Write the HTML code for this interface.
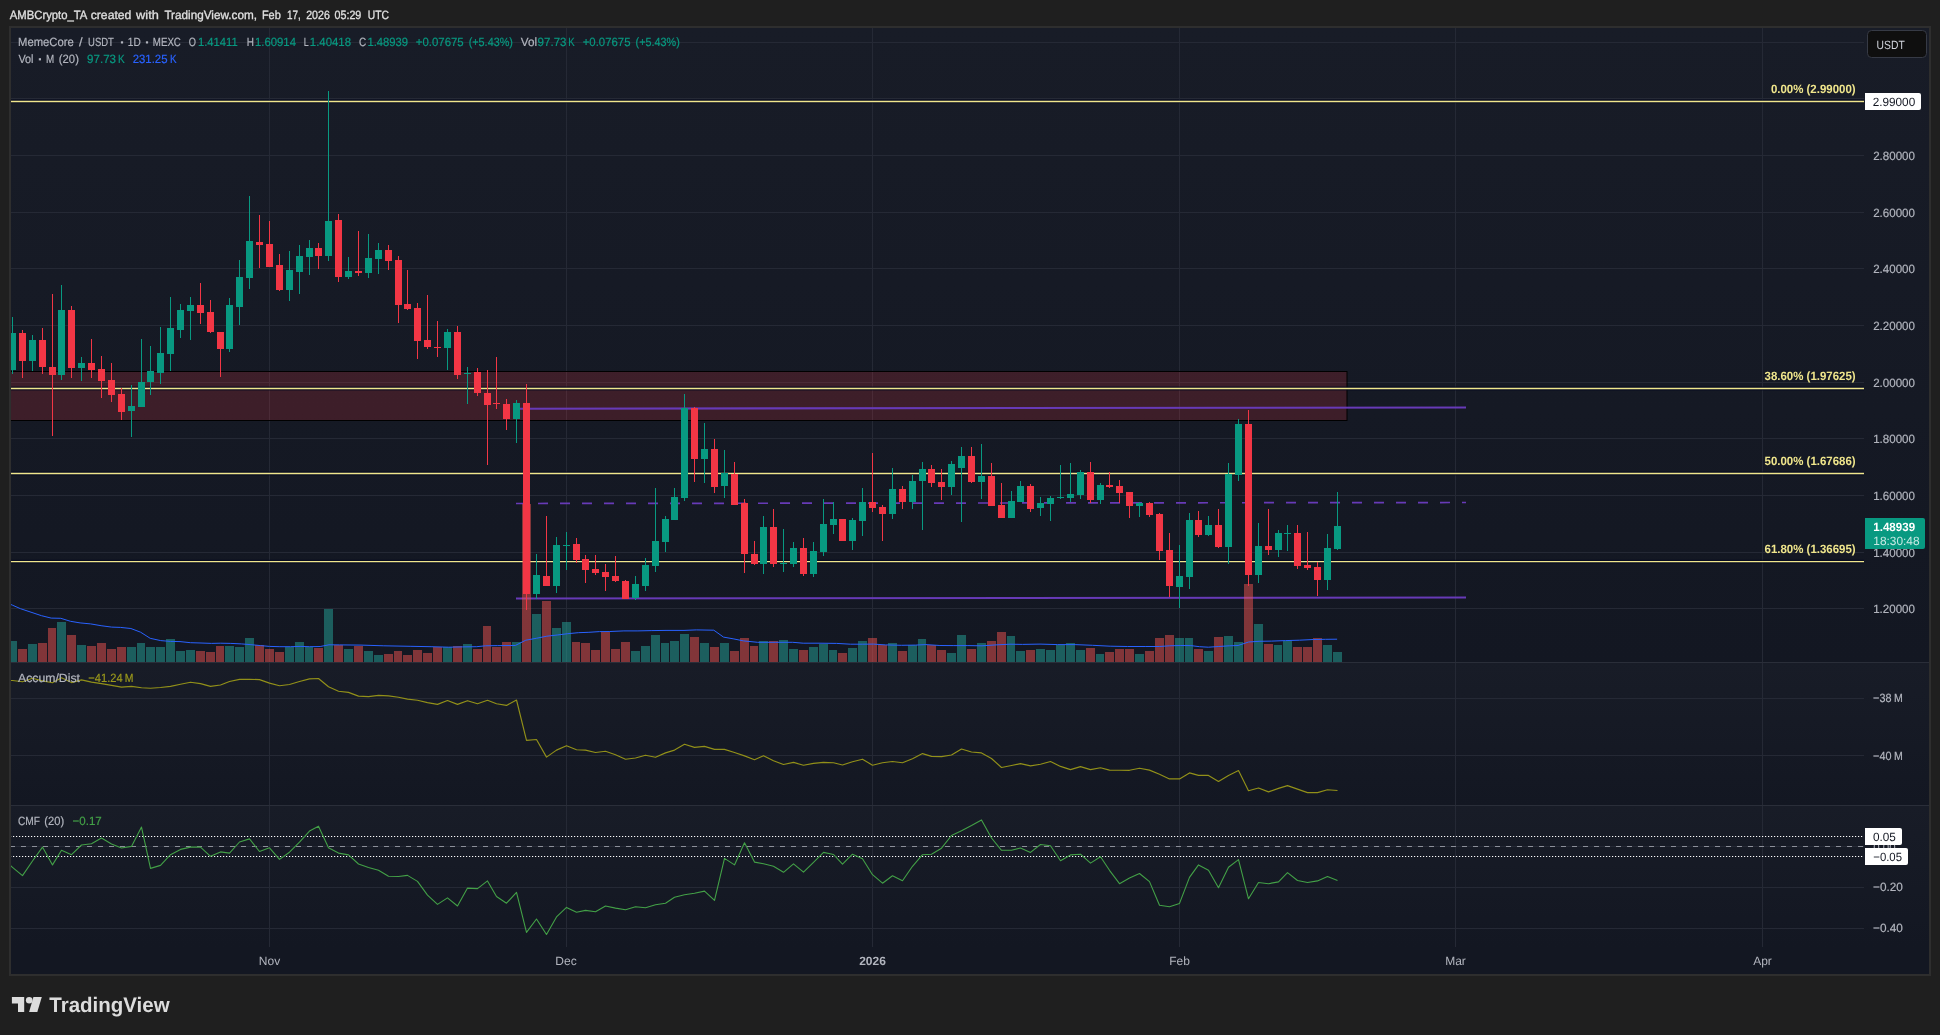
<!DOCTYPE html>
<html><head><meta charset="utf-8"><title>MemeCore / USDT chart</title>
<style>html,body{margin:0;padding:0;background:#1f1f1f;}body{width:1940px;height:1035px;overflow:hidden;font-family:"Liberation Sans", sans-serif;}svg{display:block;position:absolute;left:0;top:0}</style>
</head><body>
<svg width="1940" height="1035" viewBox="0 0 1940 1035" font-family='"Liberation Sans", sans-serif'>
<defs>
<linearGradient id="pg" x1="0" y1="0" x2="0" y2="1"><stop offset="0" stop-color="#181c27"/><stop offset="1" stop-color="#131722"/></linearGradient>
<clipPath id="plot"><rect x="11" y="28" width="1853" height="919"/></clipPath>
<clipPath id="mainp"><rect x="11" y="28" width="1853" height="634"/></clipPath>
</defs>
<rect width="1940" height="1035" fill="#1f1f1f"/>
<rect x="9" y="26" width="1922" height="950" fill="#2e2e2e"/>
<rect x="11" y="28" width="1918" height="634" fill="url(#pg)"/>
<rect x="11" y="663" width="1918" height="142" fill="url(#pg)"/>
<rect x="11" y="806" width="1918" height="141" fill="url(#pg)"/>
<rect x="11" y="947" width="1918" height="27" fill="#131722"/>
<rect x="11" y="662" width="1918" height="1" fill="#2a2e39"/>
<rect x="11" y="805" width="1918" height="1" fill="#2a2e39"/>
<g fill="#252935" shape-rendering="crispEdges">
<rect x="269" y="28" width="1" height="634"/>
<rect x="269" y="663" width="1" height="142"/>
<rect x="269" y="806" width="1" height="141"/>
<rect x="566" y="28" width="1" height="634"/>
<rect x="566" y="663" width="1" height="142"/>
<rect x="566" y="806" width="1" height="141"/>
<rect x="872" y="28" width="1" height="634"/>
<rect x="872" y="663" width="1" height="142"/>
<rect x="872" y="806" width="1" height="141"/>
<rect x="1179" y="28" width="1" height="634"/>
<rect x="1179" y="663" width="1" height="142"/>
<rect x="1179" y="806" width="1" height="141"/>
<rect x="1455" y="28" width="1" height="634"/>
<rect x="1455" y="663" width="1" height="142"/>
<rect x="1455" y="806" width="1" height="141"/>
<rect x="1762" y="28" width="1" height="634"/>
<rect x="1762" y="663" width="1" height="142"/>
<rect x="1762" y="806" width="1" height="141"/>
<rect x="11" y="42" width="1853" height="1"/>
<rect x="11" y="98" width="1853" height="1"/>
<rect x="11" y="155" width="1853" height="1"/>
<rect x="11" y="212" width="1853" height="1"/>
<rect x="11" y="268" width="1853" height="1"/>
<rect x="11" y="325" width="1853" height="1"/>
<rect x="11" y="382" width="1853" height="1"/>
<rect x="11" y="438" width="1853" height="1"/>
<rect x="11" y="495" width="1853" height="1"/>
<rect x="11" y="552" width="1853" height="1"/>
<rect x="11" y="608" width="1853" height="1"/>
<rect x="11" y="698" width="1853" height="1"/>
<rect x="11" y="755" width="1853" height="1"/>
<rect x="11" y="846" width="1853" height="1"/>
<rect x="11" y="887" width="1853" height="1"/>
<rect x="11" y="928" width="1853" height="1"/>
</g>
<g clip-path="url(#mainp)">
<rect x="0" y="371.5" width="1347" height="49" fill="rgba(242,54,69,0.18)" stroke="#000" stroke-width="1"/>
<line x1="11" x2="1864" y1="101.45" y2="101.45" stroke="#040820" stroke-opacity="0.75" stroke-width="3.8"/>
<line x1="11" x2="1864" y1="101.45" y2="101.45" stroke="#f0e68c" stroke-width="1.35"/>
<line x1="11" x2="1864" y1="388.5" y2="388.5" stroke="#040820" stroke-opacity="0.75" stroke-width="3.8"/>
<line x1="11" x2="1864" y1="388.5" y2="388.5" stroke="#f0e68c" stroke-width="1.35"/>
<line x1="11" x2="1864" y1="473.5" y2="473.5" stroke="#040820" stroke-opacity="0.75" stroke-width="3.8"/>
<line x1="11" x2="1864" y1="473.5" y2="473.5" stroke="#f0e68c" stroke-width="1.35"/>
<line x1="11" x2="1864" y1="561.55" y2="561.55" stroke="#040820" stroke-opacity="0.75" stroke-width="3.8"/>
<line x1="11" x2="1864" y1="561.55" y2="561.55" stroke="#f0e68c" stroke-width="1.35"/>
<line x1="517" x2="1466" y1="408.7" y2="407.5" stroke="#673ab7" stroke-width="2.1"/>
<line x1="516" x2="1466" y1="598.5" y2="597.5" stroke="#673ab7" stroke-width="2.1"/>
<line x1="516" x2="1466" y1="503.5" y2="502.5" stroke="#673ab7" stroke-width="1.7" stroke-dasharray="10 12"/>
</g>
<g clip-path="url(#mainp)" shape-rendering="crispEdges">
<rect x="8" y="641" width="9" height="21" fill="rgba(38,166,154,0.5)"/>
<rect x="18" y="649" width="9" height="13" fill="rgba(239,83,80,0.5)"/>
<rect x="28" y="644" width="9" height="18" fill="rgba(38,166,154,0.5)"/>
<rect x="38" y="643" width="9" height="19" fill="rgba(239,83,80,0.5)"/>
<rect x="48" y="628" width="8" height="34" fill="rgba(239,83,80,0.5)"/>
<rect x="57" y="622" width="9" height="40" fill="rgba(38,166,154,0.5)"/>
<rect x="67" y="635" width="9" height="27" fill="rgba(239,83,80,0.5)"/>
<rect x="77" y="645" width="9" height="17" fill="rgba(38,166,154,0.5)"/>
<rect x="87" y="646" width="9" height="16" fill="rgba(239,83,80,0.5)"/>
<rect x="97" y="643" width="9" height="19" fill="rgba(239,83,80,0.5)"/>
<rect x="107" y="649" width="9" height="13" fill="rgba(239,83,80,0.5)"/>
<rect x="117" y="647" width="9" height="15" fill="rgba(239,83,80,0.5)"/>
<rect x="127" y="647" width="9" height="15" fill="rgba(38,166,154,0.5)"/>
<rect x="137" y="643" width="8" height="19" fill="rgba(38,166,154,0.5)"/>
<rect x="146" y="647" width="9" height="15" fill="rgba(38,166,154,0.5)"/>
<rect x="156" y="647" width="9" height="15" fill="rgba(38,166,154,0.5)"/>
<rect x="166" y="639" width="9" height="23" fill="rgba(38,166,154,0.5)"/>
<rect x="176" y="651" width="9" height="11" fill="rgba(38,166,154,0.5)"/>
<rect x="186" y="650" width="9" height="12" fill="rgba(38,166,154,0.5)"/>
<rect x="196" y="651" width="9" height="11" fill="rgba(239,83,80,0.5)"/>
<rect x="206" y="652" width="9" height="10" fill="rgba(239,83,80,0.5)"/>
<rect x="216" y="646" width="8" height="16" fill="rgba(239,83,80,0.5)"/>
<rect x="225" y="646" width="9" height="16" fill="rgba(38,166,154,0.5)"/>
<rect x="235" y="647" width="9" height="15" fill="rgba(38,166,154,0.5)"/>
<rect x="245" y="638" width="9" height="24" fill="rgba(38,166,154,0.5)"/>
<rect x="255" y="645" width="9" height="17" fill="rgba(239,83,80,0.5)"/>
<rect x="265" y="649" width="9" height="13" fill="rgba(239,83,80,0.5)"/>
<rect x="275" y="652" width="9" height="10" fill="rgba(239,83,80,0.5)"/>
<rect x="285" y="647" width="9" height="15" fill="rgba(38,166,154,0.5)"/>
<rect x="295" y="642" width="9" height="20" fill="rgba(38,166,154,0.5)"/>
<rect x="305" y="647" width="8" height="15" fill="rgba(38,166,154,0.5)"/>
<rect x="314" y="648" width="9" height="14" fill="rgba(239,83,80,0.5)"/>
<rect x="324" y="609" width="9" height="53" fill="rgba(38,166,154,0.5)"/>
<rect x="334" y="645" width="9" height="17" fill="rgba(239,83,80,0.5)"/>
<rect x="344" y="649" width="9" height="13" fill="rgba(38,166,154,0.5)"/>
<rect x="354" y="646" width="9" height="16" fill="rgba(239,83,80,0.5)"/>
<rect x="364" y="651" width="9" height="11" fill="rgba(38,166,154,0.5)"/>
<rect x="374" y="655" width="9" height="7" fill="rgba(38,166,154,0.5)"/>
<rect x="384" y="654" width="9" height="8" fill="rgba(239,83,80,0.5)"/>
<rect x="394" y="651" width="8" height="11" fill="rgba(239,83,80,0.5)"/>
<rect x="403" y="655" width="9" height="7" fill="rgba(239,83,80,0.5)"/>
<rect x="413" y="650" width="9" height="12" fill="rgba(239,83,80,0.5)"/>
<rect x="423" y="653" width="9" height="9" fill="rgba(239,83,80,0.5)"/>
<rect x="433" y="647" width="9" height="15" fill="rgba(239,83,80,0.5)"/>
<rect x="443" y="647" width="9" height="15" fill="rgba(38,166,154,0.5)"/>
<rect x="453" y="646" width="9" height="16" fill="rgba(239,83,80,0.5)"/>
<rect x="463" y="644" width="9" height="18" fill="rgba(38,166,154,0.5)"/>
<rect x="473" y="649" width="9" height="13" fill="rgba(239,83,80,0.5)"/>
<rect x="483" y="626" width="8" height="36" fill="rgba(239,83,80,0.5)"/>
<rect x="492" y="647" width="9" height="15" fill="rgba(239,83,80,0.5)"/>
<rect x="502" y="642" width="9" height="20" fill="rgba(239,83,80,0.5)"/>
<rect x="512" y="642" width="9" height="20" fill="rgba(38,166,154,0.5)"/>
<rect x="522" y="504" width="9" height="158" fill="rgba(239,83,80,0.5)"/>
<rect x="532" y="614" width="9" height="48" fill="rgba(38,166,154,0.5)"/>
<rect x="542" y="601" width="9" height="61" fill="rgba(239,83,80,0.5)"/>
<rect x="552" y="628" width="9" height="34" fill="rgba(38,166,154,0.5)"/>
<rect x="562" y="622" width="9" height="40" fill="rgba(38,166,154,0.5)"/>
<rect x="572" y="642" width="8" height="20" fill="rgba(239,83,80,0.5)"/>
<rect x="581" y="643" width="9" height="19" fill="rgba(239,83,80,0.5)"/>
<rect x="591" y="650" width="9" height="12" fill="rgba(239,83,80,0.5)"/>
<rect x="601" y="632" width="9" height="30" fill="rgba(239,83,80,0.5)"/>
<rect x="611" y="649" width="9" height="13" fill="rgba(239,83,80,0.5)"/>
<rect x="621" y="642" width="9" height="20" fill="rgba(239,83,80,0.5)"/>
<rect x="631" y="651" width="9" height="11" fill="rgba(38,166,154,0.5)"/>
<rect x="641" y="646" width="9" height="16" fill="rgba(38,166,154,0.5)"/>
<rect x="651" y="635" width="9" height="27" fill="rgba(38,166,154,0.5)"/>
<rect x="661" y="643" width="8" height="19" fill="rgba(38,166,154,0.5)"/>
<rect x="670" y="641" width="9" height="21" fill="rgba(38,166,154,0.5)"/>
<rect x="680" y="634" width="9" height="28" fill="rgba(38,166,154,0.5)"/>
<rect x="690" y="637" width="9" height="25" fill="rgba(239,83,80,0.5)"/>
<rect x="700" y="643" width="9" height="19" fill="rgba(38,166,154,0.5)"/>
<rect x="710" y="647" width="9" height="15" fill="rgba(239,83,80,0.5)"/>
<rect x="720" y="643" width="9" height="19" fill="rgba(38,166,154,0.5)"/>
<rect x="730" y="651" width="9" height="11" fill="rgba(239,83,80,0.5)"/>
<rect x="740" y="638" width="9" height="24" fill="rgba(239,83,80,0.5)"/>
<rect x="750" y="646" width="8" height="16" fill="rgba(239,83,80,0.5)"/>
<rect x="759" y="641" width="9" height="21" fill="rgba(38,166,154,0.5)"/>
<rect x="769" y="641" width="9" height="21" fill="rgba(239,83,80,0.5)"/>
<rect x="779" y="640" width="9" height="22" fill="rgba(38,166,154,0.5)"/>
<rect x="789" y="649" width="9" height="13" fill="rgba(38,166,154,0.5)"/>
<rect x="799" y="650" width="9" height="12" fill="rgba(239,83,80,0.5)"/>
<rect x="809" y="647" width="9" height="15" fill="rgba(38,166,154,0.5)"/>
<rect x="819" y="644" width="9" height="18" fill="rgba(38,166,154,0.5)"/>
<rect x="829" y="650" width="8" height="12" fill="rgba(38,166,154,0.5)"/>
<rect x="838" y="653" width="9" height="9" fill="rgba(239,83,80,0.5)"/>
<rect x="848" y="648" width="9" height="14" fill="rgba(38,166,154,0.5)"/>
<rect x="858" y="641" width="9" height="21" fill="rgba(38,166,154,0.5)"/>
<rect x="868" y="638" width="9" height="24" fill="rgba(239,83,80,0.5)"/>
<rect x="878" y="645" width="9" height="17" fill="rgba(239,83,80,0.5)"/>
<rect x="888" y="643" width="9" height="19" fill="rgba(38,166,154,0.5)"/>
<rect x="898" y="651" width="9" height="11" fill="rgba(239,83,80,0.5)"/>
<rect x="908" y="645" width="9" height="17" fill="rgba(38,166,154,0.5)"/>
<rect x="918" y="639" width="8" height="23" fill="rgba(38,166,154,0.5)"/>
<rect x="927" y="645" width="9" height="17" fill="rgba(239,83,80,0.5)"/>
<rect x="937" y="650" width="9" height="12" fill="rgba(239,83,80,0.5)"/>
<rect x="947" y="653" width="9" height="9" fill="rgba(38,166,154,0.5)"/>
<rect x="957" y="635" width="9" height="27" fill="rgba(38,166,154,0.5)"/>
<rect x="967" y="649" width="9" height="13" fill="rgba(239,83,80,0.5)"/>
<rect x="977" y="643" width="9" height="19" fill="rgba(38,166,154,0.5)"/>
<rect x="987" y="641" width="9" height="21" fill="rgba(239,83,80,0.5)"/>
<rect x="997" y="632" width="9" height="30" fill="rgba(239,83,80,0.5)"/>
<rect x="1007" y="636" width="8" height="26" fill="rgba(38,166,154,0.5)"/>
<rect x="1016" y="651" width="9" height="11" fill="rgba(38,166,154,0.5)"/>
<rect x="1026" y="650" width="9" height="12" fill="rgba(239,83,80,0.5)"/>
<rect x="1036" y="649" width="9" height="13" fill="rgba(38,166,154,0.5)"/>
<rect x="1046" y="650" width="9" height="12" fill="rgba(38,166,154,0.5)"/>
<rect x="1056" y="645" width="9" height="17" fill="rgba(38,166,154,0.5)"/>
<rect x="1066" y="643" width="9" height="19" fill="rgba(38,166,154,0.5)"/>
<rect x="1076" y="650" width="9" height="12" fill="rgba(38,166,154,0.5)"/>
<rect x="1086" y="648" width="9" height="14" fill="rgba(239,83,80,0.5)"/>
<rect x="1096" y="654" width="8" height="8" fill="rgba(38,166,154,0.5)"/>
<rect x="1105" y="652" width="9" height="10" fill="rgba(239,83,80,0.5)"/>
<rect x="1115" y="649" width="9" height="13" fill="rgba(239,83,80,0.5)"/>
<rect x="1125" y="649" width="9" height="13" fill="rgba(239,83,80,0.5)"/>
<rect x="1135" y="654" width="9" height="8" fill="rgba(38,166,154,0.5)"/>
<rect x="1145" y="651" width="9" height="11" fill="rgba(239,83,80,0.5)"/>
<rect x="1155" y="638" width="9" height="24" fill="rgba(239,83,80,0.5)"/>
<rect x="1165" y="635" width="9" height="27" fill="rgba(239,83,80,0.5)"/>
<rect x="1175" y="638" width="9" height="24" fill="rgba(38,166,154,0.5)"/>
<rect x="1185" y="638" width="8" height="24" fill="rgba(38,166,154,0.5)"/>
<rect x="1194" y="649" width="9" height="13" fill="rgba(239,83,80,0.5)"/>
<rect x="1204" y="651" width="9" height="11" fill="rgba(38,166,154,0.5)"/>
<rect x="1214" y="637" width="9" height="25" fill="rgba(239,83,80,0.5)"/>
<rect x="1224" y="636" width="9" height="26" fill="rgba(38,166,154,0.5)"/>
<rect x="1234" y="642" width="9" height="20" fill="rgba(38,166,154,0.5)"/>
<rect x="1244" y="584" width="9" height="78" fill="rgba(239,83,80,0.5)"/>
<rect x="1254" y="624" width="9" height="38" fill="rgba(38,166,154,0.5)"/>
<rect x="1264" y="644" width="9" height="18" fill="rgba(239,83,80,0.5)"/>
<rect x="1274" y="645" width="8" height="17" fill="rgba(38,166,154,0.5)"/>
<rect x="1283" y="641" width="9" height="21" fill="rgba(38,166,154,0.5)"/>
<rect x="1293" y="647" width="9" height="15" fill="rgba(239,83,80,0.5)"/>
<rect x="1303" y="647" width="9" height="15" fill="rgba(239,83,80,0.5)"/>
<rect x="1313" y="638" width="9" height="24" fill="rgba(239,83,80,0.5)"/>
<rect x="1323" y="645" width="9" height="17" fill="rgba(38,166,154,0.5)"/>
<rect x="1333" y="652" width="9" height="10" fill="rgba(38,166,154,0.5)"/>
</g>
<polyline clip-path="url(#mainp)" points="2.6,600.9 12.5,605.2 20.5,608.7 31.0,612.2 41.5,615.7 51.2,618.1 60.8,618.3 70.5,621.3 80.1,622.9 90.6,623.9 101.1,625.7 111.6,627.1 120.4,627.4 130.9,628.5 140.6,632.2 150.2,638.3 160.7,640.6 170.4,641.4 180.0,641.6 190.5,642.7 201.0,643.0 211.5,643.4 220.3,643.2 230.8,643.4 241.3,643.9 250.1,644.6 260.6,645.6 269.4,646.4 279.9,646.7 290.4,646.7 300.9,646.4 309.7,646.7 320.2,646.5 329.0,644.8 339.5,644.9 361.0,645.1 383.8,645.8 410.1,646.3 431.1,646.7 448.7,647.2 462.7,646.9 476.7,646.7 485.5,645.8 497.7,645.6 515.3,645.5 525.8,640.2 536.3,638.3 546.8,636.2 557.3,635.0 567.8,633.7 578.3,632.7 588.9,632.3 599.4,631.6 609.9,631.5 623.9,630.9 637.9,630.9 651.9,630.6 666.0,630.4 684.0,630.4 696.3,629.9 713.8,630.2 723.5,637.1 733.1,638.8 743.6,640.9 757.6,642.3 775.2,642.3 792.7,642.3 803.2,643.2 819.0,643.2 836.5,643.4 850.5,644.2 862.8,644.2 873.3,644.1 885.6,644.9 901.3,645.3 915.4,645.1 925.9,644.6 939.9,645.5 953.9,645.6 967.9,645.6 982.0,645.8 996.0,644.9 1010.0,644.2 1022.5,644.4 1040.0,644.1 1057.6,644.6 1075.1,644.6 1092.6,645.3 1110.2,646.2 1127.7,646.5 1145.2,646.5 1159.2,646.5 1169.7,645.8 1180.2,645.5 1190.8,645.6 1199.5,646.7 1208.3,647.2 1218.8,646.5 1229.3,645.8 1238.1,645.5 1248.6,642.0 1259.1,641.3 1271.4,641.1 1285.4,640.6 1299.4,640.2 1313.4,639.5 1325.7,639.3 1337.1,639.2" fill="none" stroke="#2962ff" stroke-width="1" stroke-linejoin="round"/>
<g clip-path="url(#mainp)" shape-rendering="crispEdges">
<rect x="12" y="317" width="1" height="57" fill="#089981"/>
<rect x="9" y="333" width="7" height="37" fill="#089981"/>
<rect x="22" y="330" width="1" height="48" fill="#f23645"/>
<rect x="19" y="333" width="7" height="28" fill="#f23645"/>
<rect x="32" y="335" width="1" height="36" fill="#089981"/>
<rect x="29" y="340" width="7" height="21" fill="#089981"/>
<rect x="42" y="328" width="1" height="46" fill="#f23645"/>
<rect x="39" y="340" width="7" height="27" fill="#f23645"/>
<rect x="52" y="294" width="1" height="142" fill="#f23645"/>
<rect x="49" y="367" width="7" height="8" fill="#f23645"/>
<rect x="61" y="285" width="1" height="95" fill="#089981"/>
<rect x="58" y="310" width="7" height="65" fill="#089981"/>
<rect x="71" y="306" width="1" height="72" fill="#f23645"/>
<rect x="68" y="310" width="7" height="58" fill="#f23645"/>
<rect x="81" y="357" width="1" height="24" fill="#089981"/>
<rect x="78" y="363" width="7" height="5" fill="#089981"/>
<rect x="91" y="339" width="1" height="39" fill="#f23645"/>
<rect x="88" y="363" width="7" height="7" fill="#f23645"/>
<rect x="101" y="356" width="1" height="42" fill="#f23645"/>
<rect x="98" y="369" width="7" height="12" fill="#f23645"/>
<rect x="111" y="363" width="1" height="39" fill="#f23645"/>
<rect x="108" y="380" width="7" height="15" fill="#f23645"/>
<rect x="121" y="388" width="1" height="32" fill="#f23645"/>
<rect x="118" y="394" width="7" height="18" fill="#f23645"/>
<rect x="131" y="385" width="1" height="52" fill="#089981"/>
<rect x="128" y="406" width="7" height="5" fill="#089981"/>
<rect x="141" y="339" width="1" height="68" fill="#089981"/>
<rect x="138" y="382" width="7" height="25" fill="#089981"/>
<rect x="150" y="346" width="1" height="49" fill="#089981"/>
<rect x="147" y="371" width="7" height="11" fill="#089981"/>
<rect x="160" y="327" width="1" height="57" fill="#089981"/>
<rect x="157" y="353" width="7" height="20" fill="#089981"/>
<rect x="170" y="297" width="1" height="74" fill="#089981"/>
<rect x="167" y="328" width="7" height="26" fill="#089981"/>
<rect x="180" y="304" width="1" height="34" fill="#089981"/>
<rect x="177" y="310" width="7" height="20" fill="#089981"/>
<rect x="190" y="297" width="1" height="43" fill="#089981"/>
<rect x="187" y="305" width="7" height="6" fill="#089981"/>
<rect x="200" y="283" width="1" height="41" fill="#f23645"/>
<rect x="197" y="305" width="7" height="8" fill="#f23645"/>
<rect x="210" y="300" width="1" height="33" fill="#f23645"/>
<rect x="207" y="312" width="7" height="20" fill="#f23645"/>
<rect x="220" y="332" width="1" height="45" fill="#f23645"/>
<rect x="217" y="332" width="7" height="17" fill="#f23645"/>
<rect x="229" y="298" width="1" height="54" fill="#089981"/>
<rect x="226" y="305" width="7" height="44" fill="#089981"/>
<rect x="239" y="260" width="1" height="65" fill="#089981"/>
<rect x="236" y="277" width="7" height="30" fill="#089981"/>
<rect x="249" y="196" width="1" height="93" fill="#089981"/>
<rect x="246" y="241" width="7" height="37" fill="#089981"/>
<rect x="259" y="215" width="1" height="53" fill="#f23645"/>
<rect x="256" y="242" width="7" height="3" fill="#f23645"/>
<rect x="269" y="221" width="1" height="46" fill="#f23645"/>
<rect x="266" y="244" width="7" height="23" fill="#f23645"/>
<rect x="279" y="254" width="1" height="37" fill="#f23645"/>
<rect x="276" y="265" width="7" height="25" fill="#f23645"/>
<rect x="289" y="251" width="1" height="50" fill="#089981"/>
<rect x="286" y="270" width="7" height="20" fill="#089981"/>
<rect x="299" y="245" width="1" height="49" fill="#089981"/>
<rect x="296" y="256" width="7" height="16" fill="#089981"/>
<rect x="309" y="240" width="1" height="35" fill="#089981"/>
<rect x="306" y="248" width="7" height="9" fill="#089981"/>
<rect x="318" y="243" width="1" height="26" fill="#f23645"/>
<rect x="315" y="248" width="7" height="8" fill="#f23645"/>
<rect x="328" y="91" width="1" height="170" fill="#089981"/>
<rect x="325" y="221" width="7" height="35" fill="#089981"/>
<rect x="338" y="214" width="1" height="68" fill="#f23645"/>
<rect x="335" y="220" width="7" height="57" fill="#f23645"/>
<rect x="348" y="257" width="1" height="22" fill="#089981"/>
<rect x="345" y="271" width="7" height="6" fill="#089981"/>
<rect x="358" y="231" width="1" height="45" fill="#f23645"/>
<rect x="355" y="271" width="7" height="2" fill="#f23645"/>
<rect x="368" y="234" width="1" height="44" fill="#089981"/>
<rect x="365" y="258" width="7" height="15" fill="#089981"/>
<rect x="378" y="243" width="1" height="31" fill="#089981"/>
<rect x="375" y="250" width="7" height="9" fill="#089981"/>
<rect x="388" y="245" width="1" height="25" fill="#f23645"/>
<rect x="385" y="250" width="7" height="11" fill="#f23645"/>
<rect x="398" y="256" width="1" height="67" fill="#f23645"/>
<rect x="395" y="260" width="7" height="45" fill="#f23645"/>
<rect x="407" y="270" width="1" height="40" fill="#f23645"/>
<rect x="404" y="304" width="7" height="5" fill="#f23645"/>
<rect x="417" y="303" width="1" height="56" fill="#f23645"/>
<rect x="414" y="308" width="7" height="33" fill="#f23645"/>
<rect x="427" y="295" width="1" height="54" fill="#f23645"/>
<rect x="424" y="340" width="7" height="7" fill="#f23645"/>
<rect x="437" y="321" width="1" height="36" fill="#f23645"/>
<rect x="434" y="347" width="7" height="1" fill="#f23645"/>
<rect x="447" y="329" width="1" height="41" fill="#089981"/>
<rect x="444" y="332" width="7" height="16" fill="#089981"/>
<rect x="457" y="326" width="1" height="53" fill="#f23645"/>
<rect x="454" y="332" width="7" height="43" fill="#f23645"/>
<rect x="467" y="367" width="1" height="37" fill="#089981"/>
<rect x="464" y="373" width="7" height="1" fill="#089981"/>
<rect x="477" y="368" width="1" height="28" fill="#f23645"/>
<rect x="474" y="372" width="7" height="21" fill="#f23645"/>
<rect x="487" y="370" width="1" height="95" fill="#f23645"/>
<rect x="484" y="393" width="7" height="12" fill="#f23645"/>
<rect x="496" y="357" width="1" height="52" fill="#f23645"/>
<rect x="493" y="403" width="7" height="1" fill="#f23645"/>
<rect x="506" y="399" width="1" height="31" fill="#f23645"/>
<rect x="503" y="404" width="7" height="15" fill="#f23645"/>
<rect x="516" y="400" width="1" height="43" fill="#089981"/>
<rect x="513" y="403" width="7" height="16" fill="#089981"/>
<rect x="526" y="384" width="1" height="226" fill="#f23645"/>
<rect x="523" y="403" width="7" height="191" fill="#f23645"/>
<rect x="536" y="554" width="1" height="45" fill="#089981"/>
<rect x="533" y="575" width="7" height="19" fill="#089981"/>
<rect x="546" y="516" width="1" height="70" fill="#f23645"/>
<rect x="543" y="576" width="7" height="10" fill="#f23645"/>
<rect x="556" y="537" width="1" height="56" fill="#089981"/>
<rect x="553" y="545" width="7" height="41" fill="#089981"/>
<rect x="566" y="532" width="1" height="38" fill="#089981"/>
<rect x="563" y="545" width="7" height="1" fill="#089981"/>
<rect x="576" y="538" width="1" height="25" fill="#f23645"/>
<rect x="573" y="544" width="7" height="16" fill="#f23645"/>
<rect x="585" y="555" width="1" height="28" fill="#f23645"/>
<rect x="582" y="559" width="7" height="11" fill="#f23645"/>
<rect x="595" y="555" width="1" height="20" fill="#f23645"/>
<rect x="592" y="569" width="7" height="4" fill="#f23645"/>
<rect x="605" y="564" width="1" height="27" fill="#f23645"/>
<rect x="602" y="572" width="7" height="5" fill="#f23645"/>
<rect x="615" y="556" width="1" height="26" fill="#f23645"/>
<rect x="612" y="576" width="7" height="5" fill="#f23645"/>
<rect x="625" y="580" width="1" height="19" fill="#f23645"/>
<rect x="622" y="581" width="7" height="18" fill="#f23645"/>
<rect x="635" y="576" width="1" height="24" fill="#089981"/>
<rect x="632" y="584" width="7" height="14" fill="#089981"/>
<rect x="645" y="558" width="1" height="33" fill="#089981"/>
<rect x="642" y="565" width="7" height="21" fill="#089981"/>
<rect x="655" y="488" width="1" height="84" fill="#089981"/>
<rect x="652" y="541" width="7" height="25" fill="#089981"/>
<rect x="665" y="516" width="1" height="36" fill="#089981"/>
<rect x="662" y="519" width="7" height="23" fill="#089981"/>
<rect x="674" y="488" width="1" height="32" fill="#089981"/>
<rect x="671" y="497" width="7" height="23" fill="#089981"/>
<rect x="684" y="394" width="1" height="107" fill="#089981"/>
<rect x="681" y="408" width="7" height="90" fill="#089981"/>
<rect x="694" y="407" width="1" height="75" fill="#f23645"/>
<rect x="691" y="408" width="7" height="51" fill="#f23645"/>
<rect x="704" y="423" width="1" height="60" fill="#089981"/>
<rect x="701" y="449" width="7" height="10" fill="#089981"/>
<rect x="714" y="439" width="1" height="54" fill="#f23645"/>
<rect x="711" y="449" width="7" height="38" fill="#f23645"/>
<rect x="724" y="450" width="1" height="48" fill="#089981"/>
<rect x="721" y="473" width="7" height="13" fill="#089981"/>
<rect x="734" y="462" width="1" height="43" fill="#f23645"/>
<rect x="731" y="474" width="7" height="31" fill="#f23645"/>
<rect x="744" y="499" width="1" height="74" fill="#f23645"/>
<rect x="741" y="503" width="7" height="51" fill="#f23645"/>
<rect x="754" y="541" width="1" height="24" fill="#f23645"/>
<rect x="751" y="554" width="7" height="10" fill="#f23645"/>
<rect x="763" y="516" width="1" height="58" fill="#089981"/>
<rect x="760" y="527" width="7" height="37" fill="#089981"/>
<rect x="773" y="509" width="1" height="58" fill="#f23645"/>
<rect x="770" y="527" width="7" height="37" fill="#f23645"/>
<rect x="783" y="529" width="1" height="43" fill="#089981"/>
<rect x="780" y="563" width="7" height="1" fill="#089981"/>
<rect x="793" y="542" width="1" height="25" fill="#089981"/>
<rect x="790" y="548" width="7" height="16" fill="#089981"/>
<rect x="803" y="538" width="1" height="38" fill="#f23645"/>
<rect x="800" y="548" width="7" height="26" fill="#f23645"/>
<rect x="813" y="542" width="1" height="35" fill="#089981"/>
<rect x="810" y="551" width="7" height="23" fill="#089981"/>
<rect x="823" y="499" width="1" height="57" fill="#089981"/>
<rect x="820" y="524" width="7" height="28" fill="#089981"/>
<rect x="833" y="502" width="1" height="32" fill="#089981"/>
<rect x="830" y="519" width="7" height="6" fill="#089981"/>
<rect x="842" y="519" width="1" height="22" fill="#f23645"/>
<rect x="839" y="519" width="7" height="22" fill="#f23645"/>
<rect x="852" y="518" width="1" height="32" fill="#089981"/>
<rect x="849" y="520" width="7" height="21" fill="#089981"/>
<rect x="862" y="488" width="1" height="48" fill="#089981"/>
<rect x="859" y="502" width="7" height="19" fill="#089981"/>
<rect x="872" y="453" width="1" height="59" fill="#f23645"/>
<rect x="869" y="502" width="7" height="6" fill="#f23645"/>
<rect x="882" y="505" width="1" height="36" fill="#f23645"/>
<rect x="879" y="507" width="7" height="7" fill="#f23645"/>
<rect x="892" y="468" width="1" height="51" fill="#089981"/>
<rect x="889" y="489" width="7" height="25" fill="#089981"/>
<rect x="902" y="486" width="1" height="23" fill="#f23645"/>
<rect x="899" y="489" width="7" height="13" fill="#f23645"/>
<rect x="912" y="475" width="1" height="34" fill="#089981"/>
<rect x="909" y="481" width="7" height="21" fill="#089981"/>
<rect x="922" y="462" width="1" height="68" fill="#089981"/>
<rect x="919" y="469" width="7" height="12" fill="#089981"/>
<rect x="931" y="465" width="1" height="22" fill="#f23645"/>
<rect x="928" y="469" width="7" height="14" fill="#f23645"/>
<rect x="941" y="469" width="1" height="31" fill="#f23645"/>
<rect x="938" y="482" width="7" height="5" fill="#f23645"/>
<rect x="951" y="461" width="1" height="34" fill="#089981"/>
<rect x="948" y="464" width="7" height="23" fill="#089981"/>
<rect x="961" y="447" width="1" height="75" fill="#089981"/>
<rect x="958" y="456" width="7" height="12" fill="#089981"/>
<rect x="971" y="447" width="1" height="36" fill="#f23645"/>
<rect x="968" y="456" width="7" height="26" fill="#f23645"/>
<rect x="981" y="444" width="1" height="55" fill="#089981"/>
<rect x="978" y="476" width="7" height="6" fill="#089981"/>
<rect x="991" y="463" width="1" height="43" fill="#f23645"/>
<rect x="988" y="476" width="7" height="30" fill="#f23645"/>
<rect x="1001" y="483" width="1" height="35" fill="#f23645"/>
<rect x="998" y="505" width="7" height="13" fill="#f23645"/>
<rect x="1011" y="491" width="1" height="27" fill="#089981"/>
<rect x="1008" y="501" width="7" height="17" fill="#089981"/>
<rect x="1020" y="481" width="1" height="21" fill="#089981"/>
<rect x="1017" y="486" width="7" height="16" fill="#089981"/>
<rect x="1030" y="484" width="1" height="28" fill="#f23645"/>
<rect x="1027" y="486" width="7" height="23" fill="#f23645"/>
<rect x="1040" y="497" width="1" height="19" fill="#089981"/>
<rect x="1037" y="503" width="7" height="5" fill="#089981"/>
<rect x="1050" y="496" width="1" height="25" fill="#089981"/>
<rect x="1047" y="498" width="7" height="6" fill="#089981"/>
<rect x="1060" y="465" width="1" height="34" fill="#089981"/>
<rect x="1057" y="497" width="7" height="1" fill="#089981"/>
<rect x="1070" y="463" width="1" height="39" fill="#089981"/>
<rect x="1067" y="494" width="7" height="4" fill="#089981"/>
<rect x="1080" y="470" width="1" height="29" fill="#089981"/>
<rect x="1077" y="472" width="7" height="23" fill="#089981"/>
<rect x="1090" y="462" width="1" height="41" fill="#f23645"/>
<rect x="1087" y="472" width="7" height="28" fill="#f23645"/>
<rect x="1100" y="483" width="1" height="21" fill="#089981"/>
<rect x="1097" y="485" width="7" height="15" fill="#089981"/>
<rect x="1109" y="472" width="1" height="16" fill="#f23645"/>
<rect x="1106" y="485" width="7" height="2" fill="#f23645"/>
<rect x="1119" y="480" width="1" height="23" fill="#f23645"/>
<rect x="1116" y="486" width="7" height="7" fill="#f23645"/>
<rect x="1129" y="492" width="1" height="26" fill="#f23645"/>
<rect x="1126" y="492" width="7" height="14" fill="#f23645"/>
<rect x="1139" y="502" width="1" height="15" fill="#089981"/>
<rect x="1136" y="503" width="7" height="3" fill="#089981"/>
<rect x="1149" y="502" width="1" height="15" fill="#f23645"/>
<rect x="1146" y="503" width="7" height="12" fill="#f23645"/>
<rect x="1159" y="513" width="1" height="47" fill="#f23645"/>
<rect x="1156" y="514" width="7" height="37" fill="#f23645"/>
<rect x="1169" y="533" width="1" height="64" fill="#f23645"/>
<rect x="1166" y="550" width="7" height="36" fill="#f23645"/>
<rect x="1179" y="545" width="1" height="63" fill="#089981"/>
<rect x="1176" y="576" width="7" height="11" fill="#089981"/>
<rect x="1189" y="513" width="1" height="76" fill="#089981"/>
<rect x="1186" y="520" width="7" height="57" fill="#089981"/>
<rect x="1198" y="511" width="1" height="26" fill="#f23645"/>
<rect x="1195" y="520" width="7" height="15" fill="#f23645"/>
<rect x="1208" y="516" width="1" height="20" fill="#089981"/>
<rect x="1205" y="525" width="7" height="10" fill="#089981"/>
<rect x="1218" y="509" width="1" height="39" fill="#f23645"/>
<rect x="1215" y="525" width="7" height="22" fill="#f23645"/>
<rect x="1228" y="463" width="1" height="101" fill="#089981"/>
<rect x="1225" y="474" width="7" height="73" fill="#089981"/>
<rect x="1238" y="419" width="1" height="62" fill="#089981"/>
<rect x="1235" y="424" width="7" height="51" fill="#089981"/>
<rect x="1248" y="410" width="1" height="176" fill="#f23645"/>
<rect x="1245" y="424" width="7" height="151" fill="#f23645"/>
<rect x="1258" y="523" width="1" height="60" fill="#089981"/>
<rect x="1255" y="546" width="7" height="29" fill="#089981"/>
<rect x="1268" y="509" width="1" height="46" fill="#f23645"/>
<rect x="1265" y="546" width="7" height="4" fill="#f23645"/>
<rect x="1278" y="530" width="1" height="27" fill="#089981"/>
<rect x="1275" y="533" width="7" height="17" fill="#089981"/>
<rect x="1287" y="525" width="1" height="26" fill="#089981"/>
<rect x="1284" y="533" width="7" height="1" fill="#089981"/>
<rect x="1297" y="525" width="1" height="44" fill="#f23645"/>
<rect x="1294" y="533" width="7" height="33" fill="#f23645"/>
<rect x="1307" y="532" width="1" height="38" fill="#f23645"/>
<rect x="1304" y="565" width="7" height="3" fill="#f23645"/>
<rect x="1317" y="562" width="1" height="34" fill="#f23645"/>
<rect x="1314" y="567" width="7" height="13" fill="#f23645"/>
<rect x="1327" y="534" width="1" height="56" fill="#089981"/>
<rect x="1324" y="548" width="7" height="32" fill="#089981"/>
<rect x="1337" y="492" width="1" height="58" fill="#089981"/>
<rect x="1334" y="526" width="7" height="23" fill="#089981"/>
</g>
<polyline clip-path="url(#plot)" points="2.6,680.3 12.5,680.5 22.5,681.8 32.5,678.2 42.5,680.9 52.5,682.8 61.5,677.8 71.5,682.6 81.5,679.9 91.5,682.1 101.5,683.6 111.5,685.4 121.5,687.1 131.5,686.4 141.5,687.7 150.5,688.2 160.5,687.5 170.5,686.4 180.5,684.3 190.5,682.2 200.5,683.6 210.5,686.4 220.5,685.0 229.5,681.5 239.5,679.4 249.5,679.2 259.5,679.6 269.5,683.1 279.5,685.7 289.5,684.5 299.5,681.5 309.5,678.9 318.5,678.5 328.5,686.8 338.5,691.2 348.5,692.4 358.5,696.1 368.5,696.6 378.5,695.4 388.5,695.9 398.5,697.3 407.5,699.1 417.5,700.3 427.5,702.6 437.5,704.4 447.5,700.5 457.5,704.4 467.5,700.7 477.5,703.8 487.5,700.3 496.5,703.8 506.5,705.4 516.5,700.0 526.5,740.4 536.5,739.5 546.5,757.1 556.5,750.1 566.5,745.7 576.5,749.7 585.5,750.1 595.5,752.5 605.5,751.3 615.5,754.8 625.5,759.2 635.5,758.0 645.5,755.2 655.5,757.3 665.5,752.9 674.5,750.1 684.5,744.3 694.5,747.4 704.5,746.4 714.5,749.4 724.5,749.4 734.5,752.5 744.5,755.9 754.5,759.7 763.5,755.7 773.5,760.8 783.5,764.5 793.5,762.4 803.5,765.2 813.5,763.4 823.5,762.4 833.5,762.7 842.5,765.0 852.5,761.7 862.5,759.2 872.5,765.2 882.5,762.7 892.5,761.5 902.5,762.7 912.5,758.7 922.5,753.6 931.5,756.4 941.5,756.6 951.5,755.0 961.5,749.0 971.5,752.0 981.5,752.9 991.5,758.5 1001.5,767.5 1011.5,765.5 1020.5,763.6 1030.5,765.9 1040.5,764.3 1050.5,761.5 1060.5,766.4 1070.5,769.6 1080.5,766.6 1090.5,769.6 1100.5,767.8 1109.5,770.1 1119.5,770.3 1129.5,770.3 1139.5,768.2 1149.5,770.1 1159.5,774.3 1169.5,778.9 1179.5,778.9 1189.5,772.9 1198.5,775.4 1208.5,775.4 1218.5,781.5 1228.5,775.4 1238.5,770.6 1248.5,790.7 1258.5,788.0 1268.5,791.9 1278.5,788.4 1287.5,785.6 1297.5,789.1 1307.5,792.6 1317.5,792.6 1327.5,789.8 1337.5,790.5" fill="none" stroke="#929019" stroke-width="1.15" stroke-linejoin="round"/>
<line x1="11" x2="1863" y1="836.5" y2="836.5" stroke="#fff" stroke-width="1.2" stroke-dasharray="1.2 1.8" stroke-dashoffset="-2"/>
<line x1="11" x2="1863" y1="856.5" y2="856.5" stroke="#fff" stroke-width="1.2" stroke-dasharray="1.2 1.8" stroke-dashoffset="-2"/>
<line x1="11" x2="1863" y1="846.5" y2="846.5" stroke="#8c8f99" stroke-width="1" stroke-dasharray="5 6" stroke-dashoffset="1"/>
<polyline clip-path="url(#plot)" points="2.6,858.8 12.5,867.3 22.5,875.6 32.5,861.0 42.5,847.1 52.5,864.9 61.5,850.3 71.5,854.7 81.5,845.0 91.5,843.8 101.5,838.0 111.5,844.0 121.5,848.0 131.5,846.4 141.5,827.1 150.5,868.4 160.5,865.4 170.5,854.7 180.5,849.4 190.5,847.1 200.5,847.1 210.5,856.3 220.5,851.9 229.5,853.1 239.5,842.0 249.5,838.9 259.5,851.5 269.5,847.8 279.5,859.4 289.5,852.2 299.5,842.2 309.5,831.1 318.5,826.2 328.5,847.8 338.5,853.1 348.5,854.9 358.5,864.0 368.5,867.5 378.5,870.3 388.5,876.3 398.5,876.5 407.5,875.4 417.5,881.4 427.5,895.1 437.5,904.4 447.5,897.9 457.5,906.0 467.5,888.1 477.5,888.6 487.5,880.9 496.5,896.5 506.5,903.2 516.5,892.3 526.5,932.4 536.5,919.0 546.5,934.5 556.5,916.9 566.5,907.4 576.5,912.2 585.5,910.4 595.5,911.8 605.5,906.0 615.5,908.1 625.5,909.7 635.5,906.7 645.5,907.8 655.5,904.8 665.5,903.2 674.5,897.2 684.5,894.8 694.5,893.2 704.5,891.1 714.5,900.4 724.5,858.4 734.5,864.9 744.5,842.7 754.5,862.1 763.5,863.8 773.5,866.3 783.5,872.3 793.5,863.8 803.5,872.1 813.5,862.4 823.5,852.4 833.5,854.5 842.5,864.2 852.5,854.2 862.5,858.7 872.5,874.7 882.5,883.2 892.5,875.8 902.5,880.7 912.5,866.3 922.5,854.7 931.5,854.2 941.5,848.2 951.5,835.5 961.5,830.8 971.5,825.5 981.5,819.9 991.5,838.0 1001.5,850.3 1011.5,850.3 1020.5,848.0 1030.5,852.4 1040.5,844.5 1050.5,845.7 1060.5,860.7 1070.5,854.9 1080.5,854.2 1090.5,863.1 1100.5,856.8 1109.5,870.3 1119.5,883.7 1129.5,878.1 1139.5,873.5 1149.5,881.6 1159.5,905.3 1169.5,906.7 1179.5,903.4 1189.5,877.4 1198.5,864.9 1208.5,870.3 1218.5,887.7 1228.5,867.2 1238.5,859.6 1248.5,898.8 1258.5,882.5 1268.5,883.7 1278.5,881.9 1287.5,872.6 1297.5,880.5 1307.5,882.5 1317.5,880.9 1327.5,876.5 1337.5,880.5" fill="none" stroke="#43a047" stroke-width="1.1" stroke-linejoin="round"/>
</svg>
<svg id="txt" width="1940" height="1035" viewBox="0 0 1940 1035" font-family='"Liberation Sans", sans-serif' text-rendering="geometricPrecision" style="will-change:transform;transform:translateZ(0)">
<text x="9.8" y="18.8" font-size="12" fill="#e0e0e0" font-weight="normal" text-anchor="start" textLength="77.6" lengthAdjust="spacingAndGlyphs" stroke="#e0e0e0" stroke-width="0.3">AMBCrypto_TA</text>
<text x="90.7" y="18.8" font-size="12" fill="#e0e0e0" font-weight="normal" text-anchor="start" textLength="40.7" lengthAdjust="spacingAndGlyphs" stroke="#e0e0e0" stroke-width="0.3">created</text>
<text x="136.1" y="18.8" font-size="12" fill="#e0e0e0" font-weight="normal" text-anchor="start" textLength="22.7" lengthAdjust="spacingAndGlyphs" stroke="#e0e0e0" stroke-width="0.3">with</text>
<text x="164.4" y="18.8" font-size="12" fill="#e0e0e0" font-weight="normal" text-anchor="start" textLength="92.6" lengthAdjust="spacingAndGlyphs" stroke="#e0e0e0" stroke-width="0.3">TradingView.com,</text>
<text x="261.9" y="18.8" font-size="12" fill="#e0e0e0" font-weight="normal" text-anchor="start" textLength="18.9" lengthAdjust="spacingAndGlyphs" stroke="#e0e0e0" stroke-width="0.3">Feb</text>
<text x="287" y="18.8" font-size="12" fill="#e0e0e0" font-weight="normal" text-anchor="start" textLength="13.8" lengthAdjust="spacingAndGlyphs" stroke="#e0e0e0" stroke-width="0.3">17,</text>
<text x="306.2" y="18.8" font-size="12" fill="#e0e0e0" font-weight="normal" text-anchor="start" textLength="23.6" lengthAdjust="spacingAndGlyphs" stroke="#e0e0e0" stroke-width="0.3">2026</text>
<text x="334.5" y="18.8" font-size="12" fill="#e0e0e0" font-weight="normal" text-anchor="start" textLength="26.8" lengthAdjust="spacingAndGlyphs" stroke="#e0e0e0" stroke-width="0.3">05:29</text>
<text x="367.8" y="18.8" font-size="12" fill="#e0e0e0" font-weight="normal" text-anchor="start" textLength="21.2" lengthAdjust="spacingAndGlyphs" stroke="#e0e0e0" stroke-width="0.3">UTC</text>
<text x="18" y="45.9" font-size="12" fill="#b2b5be" font-weight="normal" text-anchor="start" textLength="55.7" lengthAdjust="spacingAndGlyphs" stroke="#b2b5be" stroke-width="0.2">MemeCore</text>
<text x="78.9" y="45.9" font-size="12" fill="#b2b5be" font-weight="normal" text-anchor="start" textLength="3.6" lengthAdjust="spacingAndGlyphs" stroke="#b2b5be" stroke-width="0.2">/</text>
<text x="88.1" y="45.9" font-size="12" fill="#b2b5be" font-weight="normal" text-anchor="start" textLength="25.8" lengthAdjust="spacingAndGlyphs" stroke="#b2b5be" stroke-width="0.2">USDT</text>
<text x="127.8" y="45.9" font-size="12" fill="#b2b5be" font-weight="normal" text-anchor="start" textLength="12.9" lengthAdjust="spacingAndGlyphs" stroke="#b2b5be" stroke-width="0.2">1D</text>
<text x="152.8" y="45.9" font-size="12" fill="#b2b5be" font-weight="normal" text-anchor="start" textLength="28.1" lengthAdjust="spacingAndGlyphs" stroke="#b2b5be" stroke-width="0.2">MEXC</text>
<text x="188.7" y="45.9" font-size="12" fill="#b2b5be" font-weight="normal" text-anchor="start" textLength="7.2" lengthAdjust="spacingAndGlyphs" stroke="#b2b5be" stroke-width="0.2">O</text>
<text x="198" y="45.9" font-size="12" fill="#089981" font-weight="normal" text-anchor="start" textLength="39.7" lengthAdjust="spacingAndGlyphs" stroke="#089981" stroke-width="0.2">1.41411</text>
<text x="246.7" y="45.9" font-size="12" fill="#b2b5be" font-weight="normal" text-anchor="start" textLength="7.2" lengthAdjust="spacingAndGlyphs" stroke="#b2b5be" stroke-width="0.2">H</text>
<text x="255" y="45.9" font-size="12" fill="#089981" font-weight="normal" text-anchor="start" textLength="41" lengthAdjust="spacingAndGlyphs" stroke="#089981" stroke-width="0.2">1.60914</text>
<text x="303.7" y="45.9" font-size="12" fill="#b2b5be" font-weight="normal" text-anchor="start" textLength="4.9" lengthAdjust="spacingAndGlyphs" stroke="#b2b5be" stroke-width="0.2">L</text>
<text x="309.8" y="45.9" font-size="12" fill="#089981" font-weight="normal" text-anchor="start" textLength="41.2" lengthAdjust="spacingAndGlyphs" stroke="#089981" stroke-width="0.2">1.40418</text>
<text x="359" y="45.9" font-size="12" fill="#b2b5be" font-weight="normal" text-anchor="start" textLength="7.2" lengthAdjust="spacingAndGlyphs" stroke="#b2b5be" stroke-width="0.2">C</text>
<text x="367.5" y="45.9" font-size="12" fill="#089981" font-weight="normal" text-anchor="start" textLength="40.6" lengthAdjust="spacingAndGlyphs" stroke="#089981" stroke-width="0.2">1.48939</text>
<text x="415.8" y="45.9" font-size="12" fill="#089981" font-weight="normal" text-anchor="start" textLength="47.9" lengthAdjust="spacingAndGlyphs" stroke="#089981" stroke-width="0.2">+0.07675</text>
<text x="468.7" y="45.9" font-size="12" fill="#089981" font-weight="normal" text-anchor="start" textLength="44.2" lengthAdjust="spacingAndGlyphs" stroke="#089981" stroke-width="0.2">(+5.43%)</text>
<text x="520.8" y="45.9" font-size="12" fill="#b2b5be" font-weight="normal" text-anchor="start" textLength="16.3" lengthAdjust="spacingAndGlyphs" stroke="#b2b5be" stroke-width="0.2">Vol</text>
<text x="537.6" y="45.9" font-size="12" fill="#089981" font-weight="normal" text-anchor="start" textLength="28.9" lengthAdjust="spacingAndGlyphs" stroke="#089981" stroke-width="0.2">97.73</text>
<text x="568.2" y="45.9" font-size="12" fill="#089981" font-weight="normal" text-anchor="start" textLength="6.4" lengthAdjust="spacingAndGlyphs" stroke="#089981" stroke-width="0.2">K</text>
<text x="582.7" y="45.9" font-size="12" fill="#089981" font-weight="normal" text-anchor="start" textLength="47.8" lengthAdjust="spacingAndGlyphs" stroke="#089981" stroke-width="0.2">+0.07675</text>
<text x="635.6" y="45.9" font-size="12" fill="#089981" font-weight="normal" text-anchor="start" textLength="44.2" lengthAdjust="spacingAndGlyphs" stroke="#089981" stroke-width="0.2">(+5.43%)</text>
<rect x="120.9" y="41.3" width="2.2" height="2.2" fill="#b2b5be"/>
<rect x="145.9" y="41.3" width="2.2" height="2.2" fill="#b2b5be"/>
<text x="18.4" y="62.8" font-size="12" fill="#b2b5be" font-weight="normal" text-anchor="start" textLength="15.1" lengthAdjust="spacingAndGlyphs" stroke="#b2b5be" stroke-width="0.2">Vol</text>
<text x="45.9" y="62.8" font-size="12" fill="#b2b5be" font-weight="normal" text-anchor="start" textLength="8.2" lengthAdjust="spacingAndGlyphs" stroke="#b2b5be" stroke-width="0.2">M</text>
<text x="58.8" y="62.8" font-size="12" fill="#b2b5be" font-weight="normal" text-anchor="start" textLength="20.1" lengthAdjust="spacingAndGlyphs" stroke="#b2b5be" stroke-width="0.2">(20)</text>
<text x="87.1" y="62.8" font-size="12" fill="#089981" font-weight="normal" text-anchor="start" textLength="28.9" lengthAdjust="spacingAndGlyphs" stroke="#089981" stroke-width="0.2">97.73</text>
<text x="118" y="62.8" font-size="12" fill="#089981" font-weight="normal" text-anchor="start" textLength="6.7" lengthAdjust="spacingAndGlyphs" stroke="#089981" stroke-width="0.2">K</text>
<text x="132.7" y="62.8" font-size="12" fill="#2962ff" font-weight="normal" text-anchor="start" textLength="34.8" lengthAdjust="spacingAndGlyphs" stroke="#2962ff" stroke-width="0.2">231.25</text>
<text x="169.9" y="62.8" font-size="12" fill="#2962ff" font-weight="normal" text-anchor="start" textLength="6.6" lengthAdjust="spacingAndGlyphs" stroke="#2962ff" stroke-width="0.2">K</text>
<rect x="38.8" y="58.2" width="2.2" height="2.2" fill="#b2b5be"/>
<text x="18" y="682" font-size="12" fill="#b2b5be" font-weight="normal" text-anchor="start" textLength="62" lengthAdjust="spacingAndGlyphs" stroke="#b2b5be" stroke-width="0.2">Accum/Dist</text>
<text x="88.3" y="682" font-size="12" fill="#9a981c" font-weight="normal" text-anchor="start" textLength="34.3" lengthAdjust="spacingAndGlyphs" stroke="#9a981c" stroke-width="0.2">−41.24</text>
<text x="124.7" y="682" font-size="12" fill="#9a981c" font-weight="normal" text-anchor="start" textLength="8.7" lengthAdjust="spacingAndGlyphs" stroke="#9a981c" stroke-width="0.2">M</text>
<text x="17.9" y="825.3" font-size="12" fill="#b2b5be" font-weight="normal" text-anchor="start" textLength="22.0" lengthAdjust="spacingAndGlyphs" stroke="#b2b5be" stroke-width="0.2">CMF</text>
<text x="44.3" y="825.3" font-size="12" fill="#b2b5be" font-weight="normal" text-anchor="start" textLength="19.8" lengthAdjust="spacingAndGlyphs" stroke="#b2b5be" stroke-width="0.2">(20)</text>
<text x="72.6" y="825.3" font-size="12" fill="#43a047" font-weight="normal" text-anchor="start" textLength="29.2" lengthAdjust="spacingAndGlyphs" stroke="#43a047" stroke-width="0.2">−0.17</text>
<text x="1873.2" y="159.9" font-size="12" fill="#b2b5be" font-weight="normal" text-anchor="start" textLength="41.8" lengthAdjust="spacingAndGlyphs" stroke="#b2b5be" stroke-width="0.2">2.80000</text>
<text x="1873.2" y="216.9" font-size="12" fill="#b2b5be" font-weight="normal" text-anchor="start" textLength="41.8" lengthAdjust="spacingAndGlyphs" stroke="#b2b5be" stroke-width="0.2">2.60000</text>
<text x="1873.2" y="272.9" font-size="12" fill="#b2b5be" font-weight="normal" text-anchor="start" textLength="41.8" lengthAdjust="spacingAndGlyphs" stroke="#b2b5be" stroke-width="0.2">2.40000</text>
<text x="1873.2" y="329.9" font-size="12" fill="#b2b5be" font-weight="normal" text-anchor="start" textLength="41.8" lengthAdjust="spacingAndGlyphs" stroke="#b2b5be" stroke-width="0.2">2.20000</text>
<text x="1873.2" y="386.9" font-size="12" fill="#b2b5be" font-weight="normal" text-anchor="start" textLength="41.8" lengthAdjust="spacingAndGlyphs" stroke="#b2b5be" stroke-width="0.2">2.00000</text>
<text x="1873.2" y="442.9" font-size="12" fill="#b2b5be" font-weight="normal" text-anchor="start" textLength="41.8" lengthAdjust="spacingAndGlyphs" stroke="#b2b5be" stroke-width="0.2">1.80000</text>
<text x="1873.2" y="499.9" font-size="12" fill="#b2b5be" font-weight="normal" text-anchor="start" textLength="41.8" lengthAdjust="spacingAndGlyphs" stroke="#b2b5be" stroke-width="0.2">1.60000</text>
<text x="1873.2" y="556.9" font-size="12" fill="#b2b5be" font-weight="normal" text-anchor="start" textLength="41.8" lengthAdjust="spacingAndGlyphs" stroke="#b2b5be" stroke-width="0.2">1.40000</text>
<text x="1873.2" y="612.9" font-size="12" fill="#b2b5be" font-weight="normal" text-anchor="start" textLength="41.8" lengthAdjust="spacingAndGlyphs" stroke="#b2b5be" stroke-width="0.2">1.20000</text>
<text x="1873.1" y="701.8" font-size="12" fill="#b2b5be" font-weight="normal" text-anchor="start" textLength="18.4" lengthAdjust="spacingAndGlyphs" stroke="#b2b5be" stroke-width="0.2">−38</text>
<text x="1893.9" y="701.8" font-size="12" fill="#b2b5be" font-weight="normal" text-anchor="start" textLength="8.8" lengthAdjust="spacingAndGlyphs" stroke="#b2b5be" stroke-width="0.2">M</text>
<text x="1873.1" y="759.9" font-size="12" fill="#b2b5be" font-weight="normal" text-anchor="start" textLength="18.4" lengthAdjust="spacingAndGlyphs" stroke="#b2b5be" stroke-width="0.2">−40</text>
<text x="1893.9" y="759.9" font-size="12" fill="#b2b5be" font-weight="normal" text-anchor="start" textLength="8.8" lengthAdjust="spacingAndGlyphs" stroke="#b2b5be" stroke-width="0.2">M</text>
<text x="1873.2" y="850.8" font-size="12" fill="#b2b5be" font-weight="normal" text-anchor="start" textLength="22.5" lengthAdjust="spacingAndGlyphs">0.00</text>
<text x="1873" y="891" font-size="12" fill="#b2b5be" font-weight="normal" text-anchor="start" textLength="29.8" lengthAdjust="spacingAndGlyphs" stroke="#b2b5be" stroke-width="0.2">−0.20</text>
<text x="1873" y="932" font-size="12" fill="#b2b5be" font-weight="normal" text-anchor="start" textLength="29.8" lengthAdjust="spacingAndGlyphs" stroke="#b2b5be" stroke-width="0.2">−0.40</text>
<text x="1855.6" y="93" font-size="12" fill="#f0e68c" font-weight="bold" text-anchor="end" textLength="84.7" lengthAdjust="spacingAndGlyphs">0.00% (2.99000)</text>
<text x="1855.6" y="380.2" font-size="12" fill="#f0e68c" font-weight="bold" text-anchor="end" textLength="91" lengthAdjust="spacingAndGlyphs">38.60% (1.97625)</text>
<text x="1855.6" y="464.9" font-size="12" fill="#f0e68c" font-weight="bold" text-anchor="end" textLength="91" lengthAdjust="spacingAndGlyphs">50.00% (1.67686)</text>
<text x="1855.6" y="553" font-size="12" fill="#f0e68c" font-weight="bold" text-anchor="end" textLength="91" lengthAdjust="spacingAndGlyphs">61.80% (1.36695)</text>
<rect x="1867.5" y="30.5" width="59" height="27" rx="4" fill="#0f0f0f" stroke="#363a45" stroke-width="1"/>
<text x="1876.6" y="49" font-size="12" fill="#d1d4dc" font-weight="normal" text-anchor="start" textLength="28.1" lengthAdjust="spacingAndGlyphs">USDT</text>
<path d="M1865 93H1919a2 2 0 0 1 2 2V108a2 2 0 0 1 -2 2H1865Z" fill="#ffffff"/>
<text x="1872.7" y="105.7" font-size="12" fill="#131722" font-weight="normal" text-anchor="start" textLength="42.5" lengthAdjust="spacingAndGlyphs">2.99000</text>
<path d="M1865 518H1923a2 2 0 0 1 2 2V547a2 2 0 0 1 -2 2H1865Z" fill="#089981"/>
<text x="1873.3" y="530.8" font-size="12" fill="#ffffff" font-weight="bold" text-anchor="start" textLength="41.8" lengthAdjust="spacingAndGlyphs">1.48939</text>
<text x="1873.3" y="544.9" font-size="12" fill="rgba(255,255,255,0.78)" font-weight="normal" text-anchor="start" textLength="46.3" lengthAdjust="spacingAndGlyphs">18:30:48</text>
<path d="M1865 828H1900a2 2 0 0 1 2 2V843a2 2 0 0 1 -2 2H1865Z" fill="#ffffff"/>
<text x="1873" y="840.5" font-size="12" fill="#131722" font-weight="normal" text-anchor="start" textLength="22.9" lengthAdjust="spacingAndGlyphs">0.05</text>
<path d="M1865 848H1906a2 2 0 0 1 2 2V863a2 2 0 0 1 -2 2H1865Z" fill="#ffffff"/>
<text x="1873.3" y="860.5" font-size="12" fill="#131722" font-weight="normal" text-anchor="start" textLength="28.7" lengthAdjust="spacingAndGlyphs">−0.05</text>
<text x="269.5" y="965" font-size="12" fill="#b2b5be" font-weight="normal" text-anchor="middle">Nov</text>
<text x="566" y="965" font-size="12" fill="#b2b5be" font-weight="normal" text-anchor="middle">Dec</text>
<text x="872.5" y="965" font-size="12" fill="#b2b5be" font-weight="bold" text-anchor="middle">2026</text>
<text x="1179.5" y="965" font-size="12" fill="#b2b5be" font-weight="normal" text-anchor="middle">Feb</text>
<text x="1455.5" y="965" font-size="12" fill="#b2b5be" font-weight="normal" text-anchor="middle">Mar</text>
<text x="1762.5" y="965" font-size="12" fill="#b2b5be" font-weight="normal" text-anchor="middle">Apr</text>
<g fill="#dcdcdc"><path d="M11.9 996.9H24.2V1012H18V1003.4H11.9Z"/><circle cx="29.2" cy="1000.2" r="3.3"/><path d="M33.4 996.9H41.8L37.3 1012H29.1Z"/></g>
<text x="49.3" y="1012" font-size="21" fill="#dcdcdc" font-weight="bold" text-anchor="start" textLength="120.3" lengthAdjust="spacingAndGlyphs">TradingView</text>
</svg>
</body></html>
